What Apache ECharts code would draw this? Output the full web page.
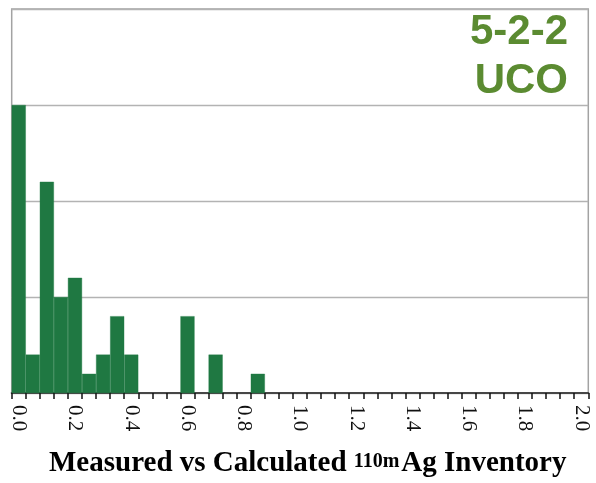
<!DOCTYPE html>
<html>
<head>
<meta charset="utf-8">
<script src="https://cdn.jsdelivr.net/npm/echarts@6/dist/echarts.min.js"></script>
<style>
  html, body { margin: 0; padding: 0; background: #ffffff; }
  #chart { width: 596px; height: 483px; }
</style>
</head>
<body>
<div id="chart"></div>
<script>
// Histogram bins (lower edge of each 0.05-wide bin)
var binEdges = [
  '0.00','0.05','0.10','0.15','0.20','0.25','0.30','0.35','0.40','0.45',
  '0.50','0.55','0.60','0.65','0.70','0.75','0.80','0.85','0.90','0.95',
  '1.00','1.05','1.10','1.15','1.20','1.25','1.30','1.35','1.40','1.45',
  '1.50','1.55','1.60','1.65','1.70','1.75','1.80','1.85','1.90','1.95',
  '2.00'
];

// Number of measurements falling in each bin
var binCounts = [
  15, 2, 11, 5, 6, 1, 2, 4, 2, 0,
  0, 0, 4, 0, 2, 0, 0, 1, 0, 0,
  0, 0, 0, 0, 0, 0, 0, 0, 0, 0,
  0, 0, 0, 0, 0, 0, 0, 0, 0, 0,
  0
];

// Labels shown under every fourth bin
var tickLabels = ['0.0','0.2','0.4','0.6','0.8','1.0','1.2','1.4','1.6','1.8','2.0'];

var chart = echarts.init(document.getElementById('chart'), null, { renderer: 'canvas' });

var cornerStyle = {
  fontFamily: 'Liberation Sans',
  fontWeight: 'bold',
  fontSize: 42,
  fill: '#5b8b31'
};

// Empty bins are left undrawn so nothing sits on the axis line
var barData = binCounts.map(function (c) { return c === 0 ? '-' : c; });

chart.setOption({
  backgroundColor: '#ffffff',
  animation: false,
  grid: {
    left: 11.7,
    right: 7.7,
    top: 9,
    bottom: 90,
    show: true,
    borderColor: '#a3a3a3',
    borderWidth: 1.5,
    backgroundColor: 'transparent'
  },
  title: {
    text: '{m|Measured vs Calculated }{s|110m}{m|Ag Inventory}',
    left: 44,
    top: 441,
    textStyle: {
      rich: {
        m: {
          fontFamily: 'Liberation Serif',
          fontWeight: 'bold',
          fontSize: 29,
          color: '#000000',
          lineHeight: 36,
          verticalAlign: 'middle'
        },
        s: {
          fontFamily: 'Liberation Serif',
          fontWeight: 'bold',
          fontSize: 20,
          color: '#000000',
          lineHeight: 24,
          verticalAlign: 'middle',
          padding: [0, 2, 4, 0]
        }
      }
    }
  },
  graphic: [
    { type: 'text', right: 28, top: 11, style: Object.assign({ text: '5-2-2' }, cornerStyle) },
    { type: 'text', right: 28, top: 60, style: Object.assign({ text: 'UCO' }, cornerStyle) }
  ],
  xAxis: {
    type: 'category',
    data: binEdges,
    boundaryGap: true,
    axisLine: { show: true, lineStyle: { color: '#474747', width: 2 } },
    axisTick: { show: true, interval: 0, length: 6, lineStyle: { color: '#111111', width: 1.5 } },
    axisLabel: {
      interval: 3,
      rotate: -90,
      margin: 12,
      fontFamily: 'Liberation Serif',
      fontSize: 21,
      color: '#111111',
      formatter: function (v, i) { return tickLabels[i / 4]; }
    },
    splitLine: { show: false }
  },
  yAxis: {
    type: 'value',
    min: 0,
    max: 20,
    interval: 5,
    axisLine: { show: false },
    axisTick: { show: false },
    axisLabel: { show: false },
    splitLine: { show: true, lineStyle: { color: '#b3b3b3', width: 1.3 } }
  },
  series: [{
    type: 'bar',
    data: barData,
    barCategoryGap: '0%',
    barGap: '0%',
    itemStyle: { color: '#1f7842', borderColor: '#1f7842', borderWidth: 0.4 }
  }]
});
</script>
</body>
</html>
